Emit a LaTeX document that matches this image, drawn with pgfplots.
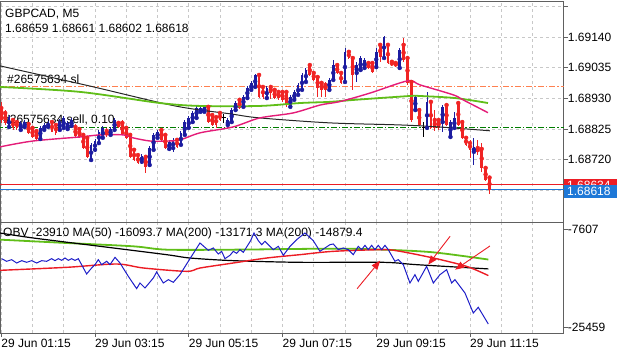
\documentclass[border=0pt]{standalone}
\usepackage{fontspec}
\setmainfont{Liberation Sans}
\usepackage{pgfplots}
\pgfplotsset{compat=1.18}
\usepackage{pgfplotstable}
\usetikzlibrary{arrows.meta}

\definecolor{bull}{RGB}{28,28,160}
\definecolor{bear}{RGB}{240,36,36}
\definecolor{magma}{RGB}{228,28,120}
\definecolor{magreen}{RGB}{96,190,24}
\definecolor{slorange}{RGB}{255,128,80}
\definecolor{opgreen}{RGB}{0,125,0}
\definecolor{bidblue}{RGB}{30,120,215}
\definecolor{askred}{RGB}{236,28,36}
\definecolor{obvblue}{RGB}{30,30,200}
\definecolor{gridc}{RGB}{200,200,200}
\definecolor{framec}{RGB}{96,96,96}

\pgfplotstableread{
n o h l c
0 1.68897 1.68918 1.68846 1.68856
1 1.68880 1.68890 1.68839 1.68846
2 1.68832 1.68873 1.68829 1.68866
3 1.68856 1.68863 1.68822 1.68829
4 1.68849 1.68856 1.68822 1.68829
5 1.68822 1.68853 1.68818 1.68846
6 1.68832 1.68856 1.68829 1.68849
7 1.68842 1.68849 1.68808 1.68812
8 1.68829 1.68836 1.68795 1.68798
9 1.68818 1.68822 1.68784 1.68791
10 1.68791 1.68836 1.68788 1.68829
11 1.68822 1.68846 1.68818 1.68839
12 1.68832 1.68853 1.68829 1.68846
13 1.68849 1.68856 1.68815 1.68818
14 1.68839 1.68846 1.68805 1.68812
15 1.68822 1.68860 1.68818 1.68853
16 1.68829 1.68870 1.68825 1.68863
17 1.68825 1.68853 1.68822 1.68846
18 1.68836 1.68863 1.68832 1.68856
19 1.68832 1.68842 1.68798 1.68801
20 1.68825 1.68832 1.68795 1.68798
21 1.68805 1.68812 1.68757 1.68760
22 1.68795 1.68798 1.68726 1.68730
23 1.68719 1.68777 1.68713 1.68771
24 1.68754 1.68791 1.68747 1.68784
25 1.68777 1.68822 1.68771 1.68815
26 1.68795 1.68836 1.68791 1.68829
27 1.68818 1.68829 1.68798 1.68805
28 1.68805 1.68832 1.68801 1.68825
29 1.68822 1.68863 1.68818 1.68856
30 1.68846 1.68853 1.68829 1.68832
31 1.68846 1.68856 1.68805 1.68808
32 1.68829 1.68832 1.68791 1.68795
33 1.68805 1.68808 1.68726 1.68730
34 1.68754 1.68760 1.68716 1.68719
35 1.68736 1.68743 1.68706 1.68709
36 1.68713 1.68740 1.68706 1.68733
37 1.68730 1.68736 1.68675 1.68695
38 1.68702 1.68767 1.68695 1.68760
39 1.68754 1.68812 1.68750 1.68805
40 1.68795 1.68822 1.68791 1.68815
41 1.68822 1.68829 1.68784 1.68788
42 1.68805 1.68812 1.68757 1.68760
43 1.68757 1.68788 1.68750 1.68781
44 1.68760 1.68795 1.68747 1.68788
45 1.68788 1.68791 1.68760 1.68764
46 1.68771 1.68818 1.68767 1.68812
47 1.68805 1.68856 1.68801 1.68849
48 1.68829 1.68870 1.68825 1.68863
49 1.68849 1.68887 1.68846 1.68880
50 1.68863 1.68904 1.68860 1.68897
51 1.68884 1.68907 1.68880 1.68897
52 1.68884 1.68907 1.68880 1.68901
53 1.68901 1.68904 1.68846 1.68849
54 1.68873 1.68880 1.68836 1.68839
55 1.68866 1.68870 1.68829 1.68839
56 1.68880 1.68887 1.68853 1.68856
57 1.68863 1.68877 1.68846 1.68863
58 1.68839 1.68863 1.68829 1.68856
59 1.68849 1.68897 1.68846 1.68890
60 1.68890 1.68921 1.68887 1.68914
61 1.68925 1.68931 1.68894 1.68897
62 1.68901 1.68942 1.68897 1.68935
63 1.68931 1.68972 1.68928 1.68966
64 1.68959 1.68990 1.68955 1.68983
65 1.68969 1.69013 1.68966 1.69010
66 1.69010 1.69013 1.68931 1.68935
67 1.68969 1.68972 1.68928 1.68935
68 1.68931 1.68972 1.68928 1.68966
69 1.68969 1.68976 1.68928 1.68948
70 1.68959 1.68966 1.68928 1.68931
71 1.68952 1.68959 1.68925 1.68931
72 1.68952 1.68959 1.68918 1.68925
73 1.68952 1.68955 1.68901 1.68907
74 1.68901 1.68942 1.68897 1.68935
75 1.68925 1.68959 1.68921 1.68952
76 1.68942 1.68983 1.68938 1.68976
77 1.68959 1.69017 1.68955 1.69010
78 1.68986 1.69034 1.68983 1.69027
79 1.69044 1.69051 1.69007 1.69010
80 1.69017 1.69020 1.68990 1.68993
81 1.69003 1.69007 1.68935 1.68966
82 1.68983 1.68986 1.68935 1.68959
83 1.68976 1.68986 1.68935 1.68959
84 1.68959 1.69000 1.68955 1.68993
85 1.68993 1.69061 1.68990 1.69044
86 1.69044 1.69051 1.69013 1.69017
87 1.69017 1.69020 1.68979 1.68983
88 1.68986 1.69102 1.68983 1.69089
89 1.69089 1.69096 1.69065 1.69068
90 1.69068 1.69072 1.68959 1.69010
91 1.69017 1.69055 1.68986 1.69044
92 1.69027 1.69075 1.69024 1.69068
93 1.69034 1.69068 1.69031 1.69061
94 1.69051 1.69055 1.69031 1.69034
95 1.69051 1.69058 1.69017 1.69020
96 1.69037 1.69102 1.69034 1.69089
97 1.69113 1.69120 1.69055 1.69072
98 1.69068 1.69143 1.69065 1.69140
99 1.69113 1.69116 1.69048 1.69051
100 1.69055 1.69061 1.69041 1.69044
101 1.69051 1.69058 1.69037 1.69041
102 1.69034 1.69102 1.69031 1.69096
103 1.69113 1.69137 1.69055 1.69061
104 1.69068 1.69072 1.68976 1.68983
105 1.68986 1.68989 1.68849 1.68856
106 1.68890 1.68942 1.68884 1.68935
107 1.68890 1.68897 1.68836 1.68839
108 1.68832 1.68849 1.68798 1.68832
109 1.68829 1.68952 1.68822 1.68918
110 1.68918 1.68925 1.68825 1.68829
111 1.68856 1.68890 1.68818 1.68829
112 1.68856 1.68863 1.68822 1.68829
113 1.68849 1.68907 1.68815 1.68901
114 1.68907 1.68914 1.68836 1.68839
115 1.68798 1.68856 1.68795 1.68849
116 1.68829 1.68884 1.68822 1.68863
117 1.68914 1.68921 1.68836 1.68839
118 1.68849 1.68856 1.68791 1.68795
119 1.68795 1.68798 1.68767 1.68771
120 1.68777 1.68788 1.68726 1.68754
121 1.68747 1.68795 1.68702 1.68764
122 1.68760 1.68788 1.68736 1.68747
123 1.68757 1.68777 1.68678 1.68692
124 1.68692 1.68695 1.68648 1.68651
125 1.68659 1.68661 1.68602 1.68618
}\candles

\pgfplotstableread{
n v
-0.32 1.69041
22.7 1.68972
44.5 1.68904
58.6 1.68877
66.2 1.68863
84.2 1.68846
102.1 1.68839
112.3 1.68832
125.1 1.68819
}\maBlack

\pgfplotstableread{
n v
-0.32 1.68969
20.2 1.68952
40.6 1.68914
50.9 1.68904
66.2 1.68904
76.5 1.68914
84.2 1.68918
90.6 1.68925
104.6 1.68938
107.2 1.68938
116.2 1.68931
124.6 1.68914
}\maGreen

\pgfplotstableread{
n v
-0.32 1.68764
8.1 1.68784
20.2 1.68798
25.3 1.68805
31.2 1.68805
33.7 1.68795
38.1 1.68784
42.4 1.68784
45.8 1.68788
50.9 1.68812
59.3 1.68832
66.2 1.68863
74.7 1.68880
81.6 1.68907
86.7 1.68919
94.4 1.68948
104.1 1.68990
107.2 1.68976
115.7 1.68942
118.2 1.68925
124.6 1.68881
}\maMagenta

\pgfplotstableread{
n v
0.1 -13012
1.39 -13498
2.67 -13194
3.95 -13802
5.23 -13376
6.51 -13680
7.79 -13376
9.07 -13802
10.35 -13376
11.63 -13498
12.9 -13012
13.76 -13376
14.61 -13012
15.46 -13316
16.32 -12891
17.17 -13316
18.02 -13012
18.88 -13316
19.73 -13012
21.86 -15806
23.14 -14713
24.0 -14105
24.85 -13194
25.7 -14105
26.98 -13498
27.84 -14105
29.12 -12769
30.4 -13802
32.53 -16231
34.66 -18478
35.52 -17445
36.8 -18356
38.93 -16534
39.78 -15441
41.49 -17445
42.77 -16838
44.05 -17324
45.75 -15927
47.89 -13498
50.87 -10158
53.01 -11494
54.29 -11069
55.57 -12162
56.42 -11676
57.27 -13012
58.55 -12405
59.41 -11676
60.26 -12040
61.11 -11372
61.97 -11858
63.84 -9733
64.7 -8336
65.8 -9733
66.66 -10461
67.51 -9854
68.36 -10461
69.66 -11372
70.93 -10765
72.21 -12405
73.92 -10765
75.62 -9550
77.75 -8336
79.88 -9733
81.59 -11676
82.87 -11069
84.15 -10461
85.0 -10340
86.28 -11372
87.56 -11069
88.84 -11372
90.12 -12283
91.4 -10765
92.26 -11372
93.11 -10583
93.96 -11372
94.82 -10583
95.67 -11372
96.52 -10583
97.38 -11372
98.23 -10583
99.08 -11372
100.79 -13498
101.64 -13194
102.92 -14105
104.63 -17445
105.91 -15927
106.77 -17142
108.9 -14409
110.61 -17445
112.31 -15927
114.02 -15016
115.3 -17445
116.15 -16838
118.71 -19267
120.84 -22911
122.12 -21879
124.68 -24915
}\obv

\pgfplotstableread{
n v
-0.32 -9550
16.75 -10158
33.81 -10765
42.34 -11372
59.41 -11372
85.0 -11190
97.8 -11372
110.6 -11858
124.7 -13171
}\obvGreen

\pgfplotstableread{
n v
-0.32 -8336
8.2 -9247
25.3 -10765
42.3 -12283
48.3 -12891
59.4 -13376
76.5 -13680
97.8 -13680
106.3 -14105
124.7 -14879
}\obvBlack

\pgfplotstableread{
n v
-0.32 -15138
16.75 -14591
29.5 -13984
36.4 -14713
47.5 -15320
50.9 -14713
59.4 -13802
68.0 -12891
76.5 -12283
85.0 -11676
97.8 -11372
102.1 -11676
110.6 -12891
119.1 -14409
124.7 -16094
}\obvRed

\begin{document}
\begin{tikzpicture}[font=\fontsize{12}{14}\selectfont]
\useasboundingbox (0pt,0pt) rectangle (625pt,-352pt);
\node[anchor=base west, inner sep=0pt] at (7pt,-83.3pt) {\#26575634 sl};
\node[anchor=base west, inner sep=0pt] at (3pt,-123.3pt) {\#26575634 sell, 0.10};
\node[anchor=base west, inner sep=0pt] at (3pt,-236.7pt) {OBV -23910 MA(50) -16093.7 MA(200) -13171.3 MA(200) -14879.4};

\begin{axis}[
  at={(0pt,-1pt)}, anchor=north west, scale only axis,
  width=563.75pt, height=221pt,
  xmin=-0.32, xmax=144, ymin=1.68507, ymax=1.69263,
  axis line style={framec, line width=0.8pt},
  xtick={0,8,...,136}, xticklabels={}, xmajorgrids,
  ytick={1.68615,1.68720,1.68825,1.68930,1.69035,1.69140,1.69245},
  yticklabels={,1.68720,1.68825,1.68930,1.69035,1.69140,},
  ymajorgrids, scaled y ticks=false, scaled x ticks=false,
  grid style={gridc, dash pattern=on 3pt off 3pt, line width=0.6pt},
  ytick pos=right, yticklabel pos=right,
  tick align=outside,
  xtick style={draw=none},
  ytick style={framec, line width=0.8pt},
  major tick length=4pt,
  yticklabel style={anchor=west, inner sep=0pt},
]
\addplot[slorange, line width=1.1pt, dash pattern=on 6pt off 2pt on 1.5pt off 2pt, forget plot] coordinates {(-1,1.68969) (150,1.68969)};
\addplot[opgreen, line width=1pt, dash pattern=on 6pt off 2pt on 1.5pt off 2pt, forget plot] coordinates {(-1,1.68829) (150,1.68829)};
\addplot[askred, line width=1.2pt, forget plot] coordinates {(-1,1.68634) (150,1.68634)};
\addplot[bidblue, line width=1pt, forget plot] coordinates {(-1,1.68618) (150,1.68618)};
% wicks
\addplot[only marks, mark=none, bear, forget plot,
  restrict expr to domain={(\thisrow{o}-\thisrow{c})*100000}{0.5:100000},
  error bars/.cd, y dir=both, y explicit, error mark=none,
  error bar style={line width=0.9pt, bear}]
  table[x=n, y=o, y error plus expr={\thisrow{h}-\thisrow{o}}, y error minus expr={\thisrow{o}-\thisrow{l}}] {\candles};
\addplot[only marks, mark=none, bull, forget plot,
  restrict expr to domain={(\thisrow{c}-\thisrow{o})*100000}{0.5:100000},
  error bars/.cd, y dir=both, y explicit, error mark=none,
  error bar style={line width=0.9pt, bull}]
  table[x=n, y=o, y error plus expr={\thisrow{h}-\thisrow{o}}, y error minus expr={\thisrow{o}-\thisrow{l}}] {\candles};
\addplot[only marks, mark=-, mark size=1.6pt, mark options={line width=0.9pt}, black, forget plot,
  restrict expr to domain={abs(\thisrow{c}-\thisrow{o})*100000}{-0.5:0.5},
  error bars/.cd, y dir=both, y explicit, error mark=none,
  error bar style={line width=0.9pt, black}]
  table[x=n, y=o, y error plus expr={\thisrow{h}-\thisrow{o}}, y error minus expr={\thisrow{o}-\thisrow{l}}] {\candles};
% bodies
\addplot[only marks, mark=none, bear, forget plot,
  restrict expr to domain={(\thisrow{o}-\thisrow{c})*100000}{0.5:100000},
  error bars/.cd, y dir=both, y explicit, error mark=none,
  error bar style={line width=2.7pt, bear}]
  table[x=n, y expr={(\thisrow{o}+\thisrow{c})/2}, y error expr={abs(\thisrow{o}-\thisrow{c})/2}] {\candles};
\addplot[only marks, mark=none, bull, forget plot,
  restrict expr to domain={(\thisrow{c}-\thisrow{o})*100000}{0.5:100000},
  error bars/.cd, y dir=both, y explicit, error mark=none,
  error bar style={line width=2.7pt, bull}]
  table[x=n, y expr={(\thisrow{o}+\thisrow{c})/2}, y error expr={abs(\thisrow{o}-\thisrow{c})/2}] {\candles};
% moving averages
\addplot[black!85, line width=1pt, smooth, forget plot] table[x=n, y=v] {\maBlack};
\addplot[magreen, line width=1.8pt, smooth, forget plot] table[x=n, y=v] {\maGreen};
\addplot[magma, line width=1.4pt, smooth, forget plot] table[x=n, y=v] {\maMagenta};
\end{axis}

\begin{axis}[
  at={(0pt,-222pt)}, anchor=north west, scale only axis,
  width=563.75pt, height=111pt,
  xmin=-0.32, xmax=144, ymin=-26555, ymax=-6332,
  axis line style={framec, line width=0.8pt},
  xtick={0,24,...,120},
  xticklabels={29 Jun 01:15,29 Jun 03:15,29 Jun 05:15,29 Jun 07:15,29 Jun 09:15,29 Jun 11:15},
  minor xtick={8,16,32,40,56,64,80,88,104,112,128,136},
  xmajorgrids, xminorgrids,
  grid style={gridc, dash pattern=on 3pt off 3pt, line width=0.6pt},
  minor grid style={gridc, dash pattern=on 3pt off 3pt, line width=0.6pt},
  scaled y ticks=false, scaled x ticks=false,
  xtick pos=bottom, ytick pos=right, yticklabel pos=right,
  tick align=outside, major tick length=4pt, minor tick length=0pt,
  tick style={framec, line width=0.8pt},
  ytick={-25459,-7607}, yticklabels={-25459,-7607},
  xticklabel style={anchor=north west, inner sep=0pt, yshift=-2pt},
  yticklabel style={anchor=west, inner sep=0pt},
]
\addplot[magreen, line width=1.8pt, smooth, forget plot] table[x=n, y=v] {\obvGreen};
\addplot[black, line width=1.2pt, smooth, forget plot] table[x=n, y=v] {\obvBlack};
\addplot[askred, line width=1.4pt, smooth, forget plot] table[x=n, y=v] {\obvRed};
\addplot[obvblue, line width=1pt, forget plot] table[x=n, y=v] {\obv};
\draw[askred, line width=0.9pt, -{Triangle[length=9pt,width=7pt]}] (axis cs:91.1,-18484) -- (axis cs:97.0,-13383);
\draw[askred, line width=0.9pt, -{Triangle[length=9pt,width=7pt]}] (axis cs:114.9,-8937) -- (axis cs:109.3,-14112);
\draw[askred, line width=0.9pt, -{Triangle[length=9pt,width=7pt]}] (axis cs:125.1,-10704) -- (axis cs:116.2,-15022);
\end{axis}

\node[anchor=base west, inner sep=0pt] at (5pt,-17.3pt) {GBPCAD, M5};
\node[anchor=base west, inner sep=0pt] at (5pt,-32.7pt) {1.68659 1.68661 1.68602 1.68618};
\fill[askred] (564pt,-179.5pt) rectangle (617pt,-192pt);
\node[white, anchor=base west, inner sep=0pt] at (567pt,-190pt) {1.68634};
\fill[bidblue] (564pt,-185pt) rectangle (617pt,-198.5pt);
\node[white, anchor=base west, inner sep=0pt] at (567pt,-195.3pt) {1.68618};
\end{tikzpicture}
\end{document}
